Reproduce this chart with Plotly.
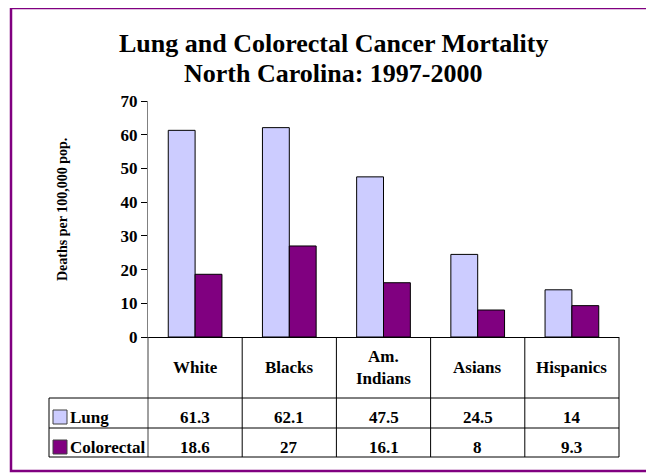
import plotly.graph_objects as go

categories = ["White", "Blacks", "Am. Indians", "Asians", "Hispanics"]
category_labels = ["White", "Blacks", "Am.<br>Indians", "Asians", "Hispanics"]
lung = [61.3, 62.1, 47.5, 24.5, 14]
colorectal = [18.6, 27, 16.1, 8, 9.3]
lung_text = ["61.3", "62.1", "47.5", "24.5", "14"]
colorectal_text = ["18.6", "27", "16.1", "8", "9.3"]
series_names = ["Lung", "Colorectal"]
y_ticks = [0, 10, 20, 30, 40, 50, 60, 70]

LUNG_COLOR = "#CCCCFF"
COLO_COLOR = "#800080"
FONT = "Liberation Serif"

# page has an 8px body margin; compensate
OFF = 8
W, H = 646, 466
PL, PR, PT, PB = 148, 619, 101, 337  # plot area in page pixels
L, R, T, B = PL - OFF, W - (PR - OFF), PT - OFF, H - (PB - OFF)
PW, PH = W - L - R, H - T - B


def px(x):
    return (x - OFF - L) / PW


def py(y):
    return (H - B - (y - OFF)) / PH


fig = go.Figure()
fig.add_trace(go.Bar(x=categories, y=lung, name=series_names[0],
                     marker=dict(color=LUNG_COLOR, line=dict(color="#000000", width=1))))
fig.add_trace(go.Bar(x=categories, y=colorectal, name=series_names[1],
                     marker=dict(color=COLO_COLOR, line=dict(color="#000000", width=1))))

shapes = []
ann = []
line_style = dict(color="#000000", width=1)

# Table grid
y_top = 0.0
y_r1, y_r2, y_r3 = py(398), py(428), py(457)
x_leg = px(49)
n = len(categories)
for i in range(n + 1):
    shapes.append(dict(type="line", xref="paper", yref="paper", x0=i / n, x1=i / n,
                       y0=y_top, y1=y_r3,
                       line=dict(color="#404040" if i == 0 else "#000000", width=1)))
shapes.append(dict(type="line", xref="paper", yref="paper", x0=x_leg, x1=x_leg,
                   y0=y_r1, y1=y_r3, line=line_style))
for yy in (y_r1, y_r2, y_r3):
    shapes.append(dict(type="line", xref="paper", yref="paper", x0=x_leg, x1=1,
                       y0=yy, y1=yy, line=line_style))

cell_font = dict(family=FONT, size=17, color="#000000", weight="bold")

for i, lab in enumerate(category_labels):
    ann.append(dict(x=(i + 0.5) / n, y=py(367), xref="paper", yref="paper", text=lab,
                    showarrow=False, font=cell_font, xanchor="center", yanchor="middle"))
    ann.append(dict(x=(i + 0.5) / n, y=py(417), xref="paper", yref="paper",
                    text=lung_text[i], showarrow=False, font=cell_font,
                    xanchor="center", yanchor="middle"))
    ann.append(dict(x=(i + 0.5) / n, y=py(447), xref="paper", yref="paper",
                    text=colorectal_text[i], showarrow=False, font=cell_font,
                    xanchor="center", yanchor="middle"))

# Legend keys inside the table
for name, color, yc in zip(series_names, [LUNG_COLOR, COLO_COLOR], [417, 447]):
    shapes.append(dict(type="rect", xref="paper", yref="paper",
                       x0=px(53), x1=px(67), y0=py(yc + 7), y1=py(yc - 7),
                       fillcolor=color, line=dict(color="#404040", width=1)))
    ann.append(dict(x=px(68), y=py(yc), xref="paper", yref="paper", text=name,
                    showarrow=False, font=cell_font, xanchor="left", yanchor="middle"))

# Outer purple border
shapes.append(dict(type="rect", xref="paper", yref="paper",
                   x0=px(11), x1=px(651), y0=py(471), y1=py(8),
                   line=dict(color="#800080", width=2.5), fillcolor="rgba(0,0,0,0)",
                   layer="below"))

# Title
title_font = dict(family=FONT, size=26, color="#000000", weight="bold")
ann.append(dict(x=px(333), y=py(44), xref="paper", yref="paper",
                text="Lung and Colorectal Cancer Mortality", showarrow=False,
                font=title_font, xanchor="center", yanchor="middle"))
ann.append(dict(x=px(333), y=py(73), xref="paper", yref="paper",
                text="North Carolina: 1997-2000", showarrow=False,
                font=title_font, xanchor="center", yanchor="middle"))

# Y axis title
ann.append(dict(x=px(62), y=py(210), xref="paper", yref="paper",
                text="Deaths per 100,000 pop.", textangle=-90, showarrow=False,
                font=dict(family=FONT, size=14, color="#000000", weight="bold"),
                xanchor="center", yanchor="middle"))

fig.update_layout(
    width=W, height=H,
    margin=dict(l=L, r=R, t=T, b=B, pad=0),
    paper_bgcolor="#FFFFFF", plot_bgcolor="#FFFFFF",
    barmode="group", bargap=0.43, bargroupgap=0,
    showlegend=False,
    shapes=shapes, annotations=ann,
    xaxis=dict(showticklabels=False, ticks="", showline=True, linecolor="#000000",
               linewidth=1, showgrid=False, zeroline=False, fixedrange=True),
    yaxis=dict(range=[0, 70], tickvals=y_ticks, ticks="outside", ticklen=6,
               tickcolor="#000000", showline=True, linecolor="#808080", linewidth=1,
               showgrid=False, zeroline=False,
               tickfont=dict(family=FONT, size=17, color="#000000", weight="bold")),
)

fig.write_html("out.html")
